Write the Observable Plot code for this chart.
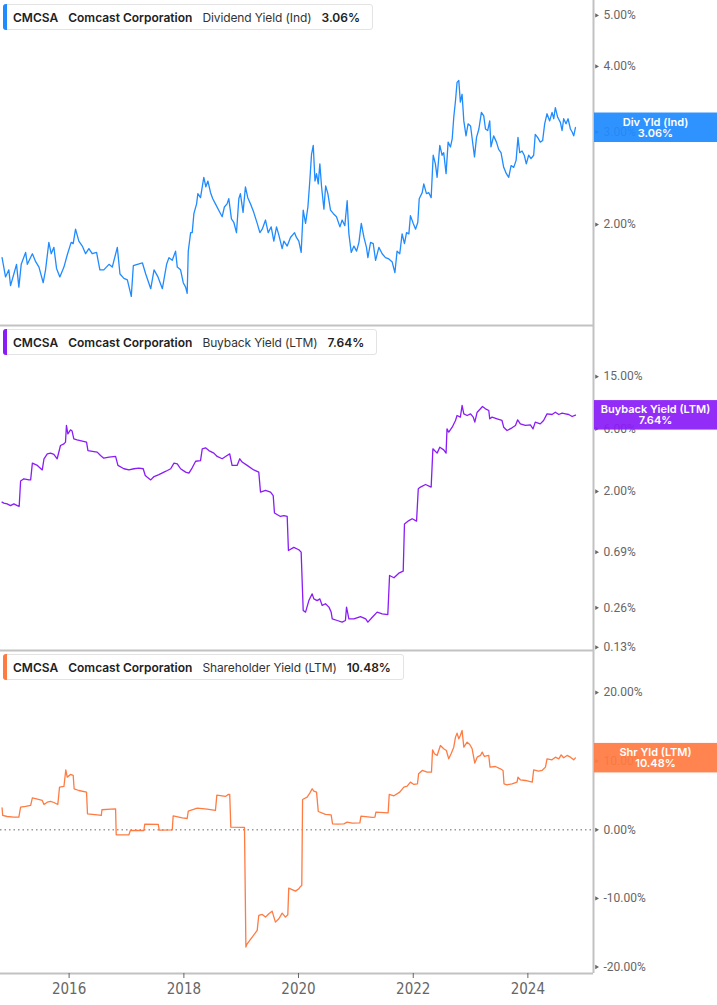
<!DOCTYPE html>
<html>
<head>
<meta charset="utf-8">
<script src="https://cdn.jsdelivr.net/npm/d3@7"></script>
<script src="https://cdn.jsdelivr.net/npm/@observablehq/plot@0.6"></script>
<style>
  body { margin: 0; background: #fff; }
  #root { position: relative; width: 717px; height: 1005px; overflow: hidden; font-family: Inter, "Noto Sans", sans-serif; }
  .panel { position: absolute; left: 0; }
  .panel svg { overflow: visible; display: block; background: transparent; }
  .legend { position: absolute; left: 3px; height: 26px; border: 1px solid #e3e3e3; border-radius: 3px; background: #fff;
            display: flex; align-items: center; padding: 0 12px 0 9px; font-size: 12px; color: #222; white-space: nowrap; box-sizing: border-box; z-index: 2; }
  .legend .bar { position: absolute; left: -1px; top: -1px; bottom: -1px; width: 4px; border-radius: 3px 0 0 3px; }
  .legend span { margin-right: 10px; }
  .legend span:last-child { margin-right: 0; }
  .legend .b { font-weight: 600; }
  .legend .m { font-weight: 400; color: #333; letter-spacing: -0.1px; }
</style>
</head>
<body>
<div id="root"></div>
<script>
// ---------- data ----------
const ticker = "CMCSA";
const company = "Comcast Corporation";
const seriesNames = ["Dividend Yield (Ind)", "Buyback Yield (LTM)", "Shareholder Yield (LTM)"];
const badgeNames = ["Div Yld (Ind)", "Buyback Yield (LTM)", "Shr Yld (LTM)"];
const lastValues = [3.06, 7.64, 10.48];
const seriesColors = ["#1f8bff", "#8a1cf6", "#ff7b42"];

const divTicks = [2, 3, 4, 5];
const buybackTicks = [0.13, 0.26, 0.69, 2, 6, 15];
const shrTicks = [-20, -10, 0, 10, 20];
const xTickYears = ["2016", "2018", "2020", "2022", "2024"];

const divYield = [
["2014-10-31",1.73],["2014-11-22",1.59],["2014-12-13",1.64],["2014-12-24",1.53],["2015-01-14",1.61],["2015-01-31",1.68],
["2015-02-15",1.52],["2015-03-02",1.68],["2015-03-30",1.77],["2015-04-10",1.68],["2015-05-12",1.76],["2015-06-02",1.70],
["2015-06-23",1.66],["2015-07-20",1.55],["2015-08-04",1.64],["2015-08-25",1.85],["2015-09-09",1.76],["2015-09-26",1.81],
["2015-10-13",1.65],["2015-11-03",1.59],["2015-11-29",1.66],["2015-12-20",1.75],["2016-01-14",1.85],["2016-01-27",1.84],
["2016-02-11",1.96],["2016-03-03",1.86],["2016-03-25",1.82],["2016-04-15",1.76],["2016-05-06",1.80],["2016-05-27",1.76],
["2016-06-24",1.77],["2016-07-15",1.64],["2016-08-09",1.64],["2016-09-11",1.68],["2016-10-02",1.66],["2016-11-03",1.81],
["2016-11-20",1.61],["2016-12-15",1.58],["2017-01-06",1.57],["2017-01-31",1.46],["2017-02-13",1.67],["2017-03-11",1.68],
["2017-04-12",1.69],["2017-05-03",1.61],["2017-06-04",1.51],["2017-06-25",1.64],["2017-07-20",1.59],["2017-08-17",1.51],
["2017-09-13",1.68],["2017-09-28",1.73],["2017-10-19",1.71],["2017-11-09",1.78],["2017-11-20",1.66],["2017-12-11",1.64],
["2017-12-28",1.55],["2018-01-12",1.52],["2018-01-22",1.48],["2018-01-29",1.78],["2018-02-13",1.93],["2018-02-23",1.93],
["2018-03-06",2.10],["2018-03-23",2.19],["2018-03-31",2.29],["2018-04-17",2.25],["2018-04-28",2.36],["2018-05-08",2.46],
["2018-05-21",2.36],["2018-06-03",2.42],["2018-06-20",2.30],["2018-07-04",2.24],["2018-07-21",2.19],["2018-08-11",2.13],
["2018-09-02",2.07],["2018-09-16",2.16],["2018-10-03",2.19],["2018-10-14",2.24],["2018-10-31",2.05],["2018-11-15",2.02],
["2018-12-02",1.93],["2018-12-17",2.24],["2018-12-27",2.29],["2019-01-13",2.11],["2019-01-28",2.36],["2019-02-12",2.25],
["2019-03-01",2.19],["2019-03-22",2.11],["2019-04-13",2.01],["2019-04-30",1.93],["2019-05-15",1.96],["2019-06-05",2.04],
["2019-06-22",1.93],["2019-07-11",1.98],["2019-07-28",1.86],["2019-08-14",1.98],["2019-08-29",1.91],["2019-09-19",1.80],
["2019-09-30",1.86],["2019-10-21",1.82],["2019-11-11",1.89],["2019-12-07",1.93],["2019-12-19",1.89],["2020-01-03",1.86],
["2020-01-18",1.77],["2020-01-31",2.13],["2020-02-15",2.01],["2020-03-01",2.16],["2020-03-13",2.42],["2020-03-24",2.72],
["2020-04-04",2.83],["2020-04-15",2.42],["2020-04-25",2.50],["2020-05-06",2.39],["2020-05-16",2.61],["2020-05-27",2.36],
["2020-06-11",2.14],["2020-06-22",2.37],["2020-07-06",2.29],["2020-07-23",2.13],["2020-08-09",2.10],["2020-08-30",2.07],
["2020-09-21",1.98],["2020-10-05",2.04],["2020-10-22",1.99],["2020-11-06",2.22],["2020-11-17",1.92],["2020-12-02",1.77],
["2020-12-19",1.82],["2021-01-05",1.78],["2021-01-20",1.85],["2021-02-04",2.01],["2021-02-21",1.89],["2021-03-09",1.81],
["2021-03-18",1.73],["2021-04-04",1.85],["2021-04-21",1.84],["2021-05-06",1.71],["2021-05-27",1.81],["2021-06-17",1.76],
["2021-07-08",1.73],["2021-07-29",1.72],["2021-08-19",1.70],["2021-09-06",1.62],["2021-09-20",1.78],["2021-10-07",1.76],
["2021-10-22",1.92],["2021-11-06",1.84],["2021-11-19",1.93],["2021-12-04",1.92],["2021-12-14",2.08],["2022-01-01",2.01],
["2022-01-16",1.96],["2022-01-30",2.02],["2022-02-08",2.24],["2022-02-27",2.30],["2022-03-09",2.39],["2022-03-26",2.29],
["2022-04-10",2.30],["2022-04-25",2.25],["2022-05-08",2.71],["2022-05-22",2.61],["2022-06-02",2.46],["2022-06-19",2.83],
["2022-07-04",2.71],["2022-07-14",2.74],["2022-07-29",2.50],["2022-08-11",2.87],["2022-08-26",2.81],["2022-09-06",2.91],
["2022-09-16",3.20],["2022-09-27",3.44],["2022-10-07",3.73],["2022-10-18",3.76],["2022-10-28",3.42],["2022-11-08",3.54],
["2022-11-19",3.15],["2022-12-03",2.95],["2022-12-16",3.11],["2023-01-01",3.08],["2023-01-18",2.81],["2023-01-26",2.69],
["2023-02-08",2.93],["2023-02-23",3.04],["2023-03-11",3.27],["2023-03-26",3.22],["2023-04-06",3.04],["2023-04-20",3.02],
["2023-05-03",3.15],["2023-05-11",2.81],["2023-05-28",2.95],["2023-06-15",2.87],["2023-06-29",2.78],["2023-07-14",2.74],
["2023-07-31",2.57],["2023-08-17",2.50],["2023-09-01",2.46],["2023-09-16",2.59],["2023-10-03",2.57],["2023-10-18",2.65],
["2023-10-30",2.93],["2023-11-10",2.74],["2023-11-25",2.76],["2023-12-09",2.71],["2023-12-22",2.61],["2024-01-06",2.71],
["2024-01-21",2.67],["2024-02-07",2.71],["2024-02-17",2.97],["2024-03-03",2.93],["2024-03-20",2.87],["2024-04-04",2.89],
["2024-04-17",3.11],["2024-05-02",3.25],["2024-05-19",3.15],["2024-06-03",3.27],["2024-06-14",3.18],["2024-06-24",3.34],
["2024-07-09",3.20],["2024-07-26",3.13],["2024-08-06",3.02],["2024-08-16",3.18],["2024-08-31",3.11],["2024-09-13",3.18],
["2024-09-28",3.04],["2024-10-09",3.00],["2024-10-19",2.95],["2024-10-30",3.06]
];

const buybackYield = [
["2014-10-31",1.66],["2014-11-11",1.63],["2014-12-02",1.61],["2014-12-24",1.56],["2015-01-14",1.61],["2015-02-05",1.56],
["2015-02-17",1.54],["2015-02-26",2.40],["2015-03-19",2.50],["2015-04-20",2.45],["2015-05-01",2.45],["2015-05-12",3.29],
["2015-06-13",3.16],["2015-07-14",2.92],["2015-07-25",3.55],["2015-08-15",3.87],["2015-09-05",3.92],["2015-09-26",3.83],
["2015-10-17",3.55],["2015-11-07",4.48],["2015-11-29",4.61],["2015-12-09",4.75],["2015-12-15",6.37],["2015-12-24",5.50],
["2016-01-10",5.90],["2016-01-20",5.77],["2016-01-31",5.04],["2016-02-21",4.95],["2016-03-25",4.84],["2016-04-21",4.75],
["2016-04-30",4.10],["2016-06-07",4.03],["2016-06-28",3.99],["2016-07-19",3.76],["2016-08-09",3.59],["2016-09-11",3.65],
["2016-10-23",3.70],["2016-11-07",3.16],["2016-12-15",2.98],["2017-01-16",2.92],["2017-02-17",2.98],["2017-03-20",3.01],
["2017-04-17",2.98],["2017-04-30",2.65],["2017-05-13",2.57],["2017-06-04",2.45],["2017-06-25",2.60],["2017-07-26",2.69],
["2017-08-27",2.81],["2017-09-18",2.89],["2017-10-09",2.98],["2017-10-30",3.29],["2017-11-20",3.25],["2017-12-11",2.98],
["2018-01-12",2.81],["2018-02-02",2.76],["2018-02-23",3.03],["2018-03-17",3.40],["2018-04-17",3.44],["2018-04-28",4.23],
["2018-05-19",4.30],["2018-06-09",4.10],["2018-07-11",3.92],["2018-08-01",3.70],["2018-09-02",3.55],["2018-10-03",3.76],
["2018-10-20",3.87],["2018-11-04",3.16],["2018-12-06",3.16],["2018-12-23",3.55],["2019-01-07",3.35],["2019-02-08",3.16],
["2019-03-22",2.92],["2019-04-23",2.81],["2019-05-04",1.98],["2019-06-05",2.04],["2019-07-07",1.98],["2019-07-24",1.86],
["2019-08-01",1.37],["2019-09-08",1.29],["2019-09-30",1.31],["2019-10-21",1.29],["2019-10-29",0.71],["2019-12-02",0.75],
["2020-01-03",0.72],["2020-01-18",0.69],["2020-01-31",0.248],["2020-02-15",0.241],["2020-03-07",0.295],["2020-03-28",0.332],
["2020-04-08",0.304],["2020-04-29",0.295],["2020-05-16",0.304],["2020-05-31",0.271],["2020-06-21",0.279],["2020-07-13",0.263],
["2020-07-27",0.241],["2020-08-03",0.214],["2020-09-04",0.208],["2020-10-05",0.202],["2020-10-26",0.208],["2020-11-02",0.263],
["2020-11-17",0.214],["2020-12-19",0.214],["2021-01-30",0.223],["2021-03-04",0.214],["2021-03-18",0.202],["2021-04-15",0.220],
["2021-05-16",0.241],["2021-06-17",0.234],["2021-07-23",0.231],["2021-08-03",0.458],["2021-08-31",0.440],["2021-10-01",0.477],
["2021-10-29",0.494],["2021-11-06",1.13],["2021-12-04",1.20],["2021-12-25",1.24],["2022-01-22",1.19],["2022-02-02",2.10],
["2022-02-16",2.16],["2022-03-20",2.26],["2022-04-25",2.16],["2022-05-06",4.23],["2022-06-02",3.92],["2022-06-19",4.35],
["2022-07-14",4.15],["2022-07-29",3.92],["2022-08-04",6.00],["2022-08-15",5.66],["2022-09-06",6.18],["2022-09-27",6.95],
["2022-10-07",7.58],["2022-10-28",7.37],["2022-11-08",9.04],["2022-11-19",7.81],["2022-12-10",7.58],["2023-01-01",7.81],
["2023-01-18",7.37],["2023-01-28",6.75],["2023-02-12",8.04],["2023-03-05",8.53],["2023-03-18",8.88],["2023-04-06",8.53],
["2023-04-27",8.28],["2023-05-03",7.16],["2023-05-18",7.37],["2023-06-19",7.16],["2023-07-20",6.95],["2023-07-31",6.18],
["2023-08-21",5.83],["2023-09-22",6.11],["2023-10-14",6.37],["2023-10-28",7.03],["2023-11-14",6.55],["2023-12-16",6.37],
["2024-01-17",6.44],["2024-02-03",6.00],["2024-02-17",6.75],["2024-03-20",6.55],["2024-04-10",6.95],["2024-05-02",7.81],
["2024-06-03",7.72],["2024-06-24",8.04],["2024-07-16",7.72],["2024-08-06",7.90],["2024-08-27",7.81],["2024-09-17",7.72],
["2024-10-09",7.45],["2024-10-30",7.64]
];

const shareholderYield = [
["2014-10-31",3.21],["2014-11-04",2.09],["2014-12-02",1.94],["2015-01-14",1.85],["2015-02-15",1.85],["2015-02-26",3.30],
["2015-03-30",3.40],["2015-05-01",3.55],["2015-05-12",4.66],["2015-06-13",4.47],["2015-07-14",4.28],["2015-07-25",3.69],
["2015-08-15",4.03],["2015-09-05",4.13],["2015-09-26",3.98],["2015-10-21",3.69],["2015-11-01",6.22],["2015-11-29",6.32],
["2015-12-11",8.75],["2015-12-20",7.68],["2016-01-10",8.07],["2016-01-27",7.92],["2016-02-02",5.98],["2016-03-03",5.73],
["2016-04-21",5.49],["2016-04-27",2.33],["2016-06-28",2.19],["2016-07-24",2.09],["2016-07-28",2.92],["2016-09-22",3.01],
["2016-10-23",3.06],["2016-10-27",-0.73],["2017-01-16",-0.73],["2017-01-25",-0.10],["2017-04-21",-0.10],["2017-04-27",0.83],
["2017-07-22",0.78],["2017-07-28",-0.05],["2017-10-19",0.00],["2017-10-25",2.04],["2017-12-22",1.75],["2018-01-22",1.65],
["2018-01-29",2.72],["2018-03-27",3.16],["2018-05-29",3.01],["2018-07-21",2.82],["2018-07-30",5.05],["2018-09-23",4.86],
["2018-10-10",5.15],["2018-10-20",5.15],["2018-10-27",0.39],["2019-01-22",0.34],["2019-01-31",-17.10],["2019-02-08",-16.62],
["2019-03-12",-15.65],["2019-04-13",-14.67],["2019-04-23",-12.49],["2019-05-15",-12.34],["2019-06-05",-12.73],["2019-06-26",-12.24],
["2019-07-17",-11.86],["2019-08-07",-13.46],["2019-08-29",-12.97],["2019-09-19",-12.15],["2019-10-10",-12.73],["2019-10-25",-12.39],
["2019-10-31",-8.50],["2019-12-13",-8.94],["2020-01-03",-8.60],["2020-01-14",-8.26],["2020-01-22",-8.11],["2020-01-27",4.42],
["2020-02-25",4.76],["2020-03-13",5.35],["2020-03-28",5.98],["2020-04-08",5.64],["2020-04-25",5.49],["2020-05-06",2.67],
["2020-06-21",2.24],["2020-07-27",2.19],["2020-08-05",0.87],["2020-09-04",0.83],["2020-10-16",0.87],["2020-11-06",1.12],
["2020-12-08",0.97],["2021-01-26",1.02],["2021-02-02",1.99],["2021-04-15",1.80],["2021-05-02",1.85],["2021-05-08",2.58],
["2021-07-25",2.48],["2021-08-01",5.15],["2021-08-31",4.96],["2021-10-07",5.49],["2021-11-02",6.22],["2021-11-23",6.37],
["2021-12-14",6.95],["2022-01-05",6.61],["2022-01-28",6.71],["2022-02-04",8.16],["2022-02-27",8.65],["2022-03-31",8.41],
["2022-04-27",8.41],["2022-05-04",11.66],["2022-05-16",11.08],["2022-06-02",10.84],["2022-06-23",12.29],["2022-07-14",11.81],
["2022-07-31",11.56],["2022-08-15",10.35],["2022-08-30",11.08],["2022-09-16",12.05],["2022-09-27",13.51],["2022-10-07",14.09],
["2022-10-18",13.27],["2022-10-28",13.75],["2022-11-08",14.48],["2022-11-19",12.05],["2022-12-10",12.78],["2022-12-27",12.44],
["2023-01-11",11.81],["2023-01-28",9.72],["2023-02-12",10.59],["2023-03-05",10.84],["2023-03-16",11.32],["2023-03-30",10.69],
["2023-04-27",10.84],["2023-05-05",9.14],["2023-06-08",9.23],["2023-07-10",8.89],["2023-07-27",8.65],["2023-08-02",6.71],
["2023-08-21",6.56],["2023-09-22",6.71],["2023-10-24",6.95],["2023-10-30",7.68],["2023-11-14",7.29],["2023-12-16",7.19],
["2024-01-29",6.95],["2024-02-07",8.75],["2024-03-10",8.55],["2024-03-31",8.65],["2024-04-22",9.14],["2024-05-02",10.35],
["2024-06-03",10.20],["2024-06-24",10.59],["2024-07-16",10.35],["2024-07-31",10.93],["2024-08-16",10.50],["2024-09-07",10.84],
["2024-09-28",10.59],["2024-10-19",10.20],["2024-10-30",10.48]
];

// ---------- chart ----------
const X_DOMAIN = [new Date("2014-10-21"), new Date("2025-02-22")];
const xTicks = xTickYears.map(y => new Date(y + "-01-01"));
const fmt = d => d.toFixed(2) + "%";

function badgeMark(label, value, color) {
  return (index, scales, values, dims) => {
    const y = scales.y(value);
    const x0 = dims.width - dims.marginRight + 1;
    const w = dims.width - x0;
    const g = d3.create("svg:g");
    g.append("rect").attr("x", x0).attr("y", y - 14.5).attr("width", w).attr("height", 29.5)
      .attr("fill", color).attr("fill-opacity", 0.93);
    const t = g.append("text").attr("fill", "#fff").attr("text-anchor", "middle")
      .attr("font-family", "Inter, sans-serif").attr("font-size", 11).attr("font-weight", 600);
    t.append("tspan").attr("x", x0 + w / 2).attr("y", y - 5).attr("dy", "0.35em").text(label);
    t.append("tspan").attr("x", x0 + w / 2).attr("y", y + 6).attr("dy", "0.35em").text(fmt(value));
    return g.node();
  };
}

function makePanel(cfg) {
  const data = cfg.data.map(([d, v]) => ({date: new Date(d), value: v}));
  const marks = [
    Plot.ruleY([cfg.yDomain[0]], {stroke: "#c2c2c2", strokeWidth: 2}),
    Plot.ruleX([X_DOMAIN[1]], {stroke: "#c2c2c2", strokeWidth: 2})
  ];
  if (cfg.zero) marks.push(Plot.ruleY([0], {stroke: "#9a9a9a", strokeWidth: 1.5, strokeDasharray: "1.5,3"}));
  // right-hand y axis: small arrow ticks + labels
  marks.push(Plot.dot(cfg.ticks, {y: d => d, frameAnchor: "right", symbol: "triangle", r: 1.6, rotate: 90, dx: 3,
    fill: "#666", stroke: null}));
  marks.push(Plot.text(cfg.ticks, {y: d => d, text: fmt, frameAnchor: "right", textAnchor: "start", dx: 10,
    fill: "#666", fontSize: 12, fontFamily: "Roboto, sans-serif"}));
  if (cfg.xAxis) marks.push(Plot.axisX({ticks: xTicks, tickFormat: "%Y", tickSize: 5, tickPadding: 5, label: null,
    fill: "#666", fontSize: 15, fontFamily: "'Liberation Sans Narrow', 'DejaVu Sans Condensed', sans-serif"}));
  marks.push(Plot.lineY(data, {x: "date", y: "value", stroke: cfg.color, strokeWidth: 1.3}));
  marks.push(badgeMark(cfg.badge, cfg.last, cfg.color));
  const x = {type: "utc", domain: X_DOMAIN};
  if (!cfg.xAxis) x.axis = null;
  return Plot.plot({
    width: 717, height: cfg.height,
    marginLeft: 0, marginRight: 124, marginTop: 0, marginBottom: cfg.marginBottom,
    x,
    y: {type: cfg.yType, domain: cfg.yDomain, axis: null},
    style: {background: "transparent", overflow: "visible", color: "#666"},
    marks
  });
}

const panels = [
  {data: divYield, yType: "log", yDomain: [1.285, 5.339], ticks: divTicks, height: 325, marginBottom: 0, top: 0, legendTop: 4},
  {data: buybackYield, yType: "log", yDomain: [0.1229, 36.78], ticks: buybackTicks, height: 325, marginBottom: 0, top: 325, legendTop: 329},
  {data: shareholderYield, yType: "linear", yDomain: [-20.95, 26.14], ticks: shrTicks, height: 355, marginBottom: 32, top: 650, legendTop: 654, xAxis: true, zero: true}
];

const root = document.getElementById("root");
panels.forEach((p, i) => {
  p.color = seriesColors[i];
  p.badge = badgeNames[i];
  p.last = lastValues[i];
  const div = document.createElement("div");
  div.className = "panel";
  div.style.top = p.top + "px";
  div.appendChild(makePanel(p));
  root.appendChild(div);

  const lg = document.createElement("div");
  lg.className = "legend";
  lg.style.top = p.legendTop + "px";
  lg.innerHTML = `<div class="bar" style="background:${p.color}"></div>` +
    `<span class="b">${ticker}</span><span class="b">${company}</span>` +
    `<span class="m">${seriesNames[i]}</span><span class="b">${fmt(p.last)}</span>`;
  root.appendChild(lg);
});
</script>
</body>
</html>
